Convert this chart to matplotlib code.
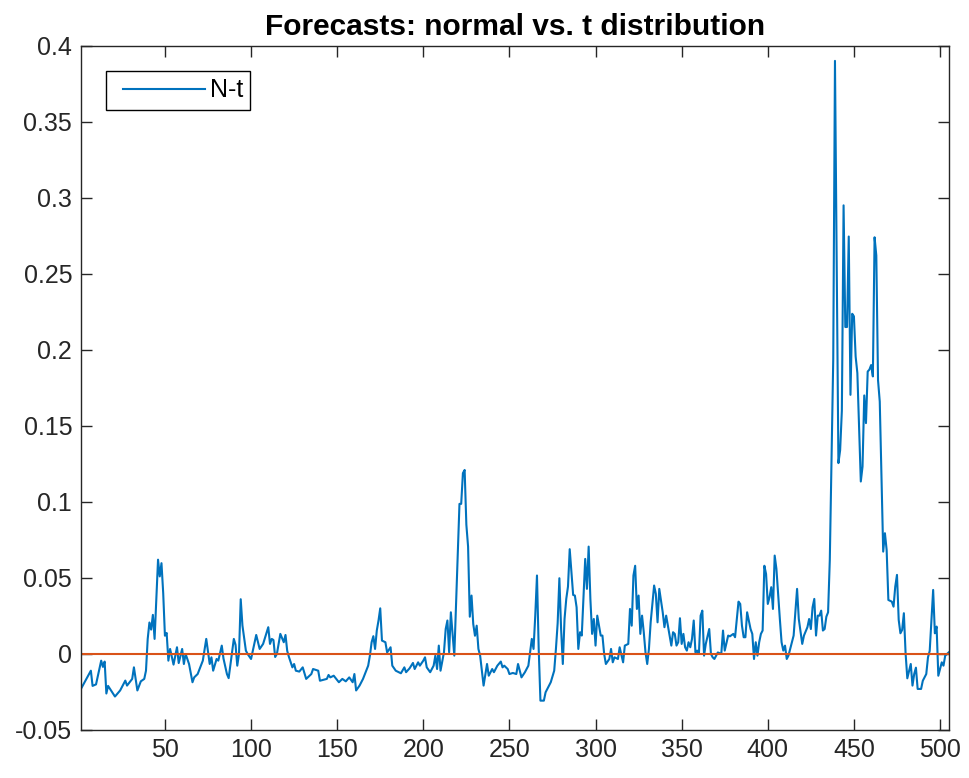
import matplotlib
matplotlib.use("Agg")
import matplotlib.pyplot as plt
from matplotlib.legend_handler import HandlerLine2D
import numpy as np

obs = [
    1, 7, 8, 10, 13, 14, 15, 16, 17, 21, 24, 27, 28, 31, 32, 34, 36, 38, 39, 40,
    41, 42, 43, 44, 46, 47, 48, 49, 50, 51, 52, 53, 55, 57, 58, 60, 61, 62, 64, 66,
    67, 69, 72, 74, 76, 77, 78, 80, 81, 83, 84, 86, 87, 90, 91, 92, 93, 94, 95, 97,
    98, 100, 101, 103, 105, 107, 110, 111, 112, 113, 114, 115, 117, 119, 120, 121, 122, 124, 125, 126,
    128, 130, 132, 135, 136, 139, 140, 144, 145, 146, 148, 151, 153, 155, 157, 159, 160, 161, 163, 165,
    168, 169, 170, 171, 172, 173, 174, 175, 176, 178, 179, 181, 182, 184, 187, 189, 190, 192, 194, 195,
    197, 198, 200, 201, 202, 204, 206, 207, 208, 209, 210, 212, 213, 214, 215, 216, 218, 219, 221, 222,
    223, 224, 225, 226, 227, 228, 229, 230, 231, 232, 233, 235, 237, 238, 240, 241, 243, 245, 246, 247,
    249, 250, 252, 254, 255, 257, 259, 261, 262, 263, 264, 265, 266, 267, 268, 270, 271, 273, 274, 276,
    277, 278, 279, 280, 281, 282, 283, 284, 285, 287, 288, 289, 290, 291, 292, 294, 295, 296, 297, 298,
    299, 300, 301, 303, 304, 305, 306, 308, 309, 310, 311, 313, 314, 316, 317, 319, 320, 321, 322, 323,
    324, 325, 326, 327, 328, 329, 330, 331, 332, 334, 335, 336, 337, 339, 340, 341, 342, 344, 345, 346,
    347, 348, 349, 350, 351, 352, 353, 354, 355, 356, 357, 358, 359, 360, 361, 362, 363, 364, 366, 367,
    368, 369, 371, 373, 374, 375, 377, 378, 380, 381, 382, 383, 384, 385, 386, 387, 388, 390, 391, 392,
    393, 394, 395, 396, 397, 398, 399, 400, 401, 402, 403, 404, 405, 407, 408, 409, 410, 411, 412, 413,
    415, 416, 417, 418, 420, 421, 423, 424, 425, 426, 427, 428, 429, 430, 431, 432, 433, 434, 435, 436,
    437, 438, 439, 441, 442, 443, 444, 445, 446, 447, 448, 449, 450, 451, 452, 454, 455, 456, 457, 458,
    459, 460, 461, 462, 463, 464, 465, 466, 467, 468, 469, 470, 472, 473, 474, 475, 476, 477, 478, 479,
    480, 481, 483, 484, 485, 486, 487, 489, 490, 492, 493, 494, 495, 496, 497, 498, 499, 501, 502, 503,
    505,
]
n_t = [
    -0.0235, -0.011, -0.021, -0.020, -0.0044, -0.0085, -0.005, -0.026, -0.021, -0.028,
    -0.024, -0.0175, -0.0208, -0.0164, -0.0088, -0.024, -0.018, -0.0164, -0.011, 0.0099,
    0.0207, 0.016, 0.0257, 0.0099, 0.062, 0.051, 0.0597, 0.040, 0.012, 0.0138,
    -0.0044, 0.0033, -0.007, 0.0044, -0.006, 0.0033, -0.0066, 0.0, -0.0066, -0.0186,
    -0.0154, -0.0132, -0.0044, 0.0099, -0.0066, -0.0022, -0.011, -0.0033, -0.0044, 0.0055,
    -0.003, -0.0132, -0.0159, 0.0099, 0.006, -0.0077, 0.0, 0.036, 0.0187, 0.0022,
    0.0, -0.0033, 0.002, 0.0125, 0.0033, 0.0066, 0.0176, 0.0066, 0.0099, 0.0092,
    -0.002, 0.0, 0.0132, 0.0077, 0.0125, 0.002, -0.002, -0.0088, -0.0066, -0.011,
    -0.0116, -0.0088, -0.0164, -0.0132, -0.0099, -0.011, -0.0176, -0.0164, -0.0138, -0.0154,
    -0.0143, -0.0186, -0.0164, -0.018, -0.0154, -0.0186, -0.0132, -0.024, -0.0208, -0.0164,
    -0.0077, -0.0011, 0.0077, 0.0117, 0.0033, 0.0154, 0.022, 0.030, 0.0088, 0.0077,
    0.001, 0.0044, -0.0077, -0.011, -0.0127, -0.0088, -0.012, -0.0095, -0.0059, -0.0099,
    -0.0055, -0.0077, -0.0044, -0.0022, -0.0088, -0.012, -0.0077, -0.0011, -0.0099, 0.0055,
    -0.011, 0.0011, 0.0164, 0.022, 0.0011, 0.0274, -0.0011, 0.0318, 0.0987, 0.0987,
    0.1189, 0.121, 0.085, 0.0706, 0.0245, 0.0384, 0.0197, 0.012, 0.0186, 0.0033,
    -0.0011, -0.0208, -0.0066, -0.0143, -0.0099, -0.012, -0.0077, -0.005, -0.0088, -0.0077,
    -0.0099, -0.0132, -0.0125, -0.0132, -0.0066, -0.0154, -0.012, -0.0077, 0.001, 0.0099,
    0.0033, 0.0252, 0.0516, 0.0033, -0.0307, -0.0307, -0.0252, -0.0208, -0.0186, -0.011,
    0.0033, 0.0202, 0.0498, 0.0164, -0.0066, 0.023, 0.0362, 0.0443, 0.0689, 0.0388,
    0.0384, 0.0307, 0.0033, 0.0143, 0.0121, 0.0625, 0.0428, 0.0706, 0.0362, 0.0132,
    0.023, 0.0055, 0.0252, 0.0121, 0.0121, 0.0, -0.0066, -0.0033, 0.0033, -0.0055,
    -0.0022, -0.0033, 0.0044, -0.0055, 0.0055, 0.0066, 0.0296, 0.0186, 0.0516, 0.058,
    0.0296, 0.0384, 0.0132, 0.0252, 0.0143, 0.001, -0.0066, 0.0033, 0.0208, 0.045,
    0.0395, 0.0208, 0.0428, 0.0274, 0.0176, 0.0252, 0.0186, 0.0055, 0.0143, 0.0132,
    0.0055, 0.0077, 0.0235, 0.0066, 0.0132, 0.0044, 0.0022, 0.0077, 0.0044, 0.0099,
    0.022, 0.001, 0.0022, 0.0, 0.0252, 0.0285, -0.0011, 0.0066, 0.0164, 0.0,
    -0.0022, -0.0033, 0.001, 0.0, 0.0154, 0.0022, 0.0121, 0.0116, 0.0132, 0.011,
    0.023, 0.0344, 0.0329, 0.0186, 0.011, 0.011, 0.0274, 0.0164, 0.0132, -0.0033,
    0.0077, -0.0011, 0.0077, 0.0132, 0.0154, 0.058, 0.0526, 0.0329, 0.0373, 0.0439,
    0.0296, 0.0647, 0.056, 0.023, 0.0077, 0.0022, 0.0055, -0.0033, -0.0011, 0.0033,
    0.0121, 0.0274, 0.0428, 0.023, 0.0066, 0.0121, 0.0176, 0.023, 0.0164, 0.0307,
    0.0362, 0.0121, 0.0252, 0.0252, 0.0285, 0.0154, 0.0164, 0.0245, 0.0274, 0.0618,
    0.1276, 0.194, 0.39, 0.1255, 0.134, 0.160, 0.295, 0.215, 0.215, 0.2745,
    0.1704, 0.2237, 0.222, 0.1956, 0.1847, 0.1134, 0.1232, 0.170, 0.1518, 0.1857,
    0.187, 0.19, 0.1825, 0.274, 0.262, 0.18, 0.166, 0.1167, 0.0673, 0.0794,
    0.0684, 0.0355, 0.0344, 0.0311, 0.0443, 0.052, 0.0224, 0.0136, 0.0158, 0.0268,
    0.0004, -0.016, -0.0066, -0.0208, -0.0132, -0.009, -0.023, -0.023, -0.0176, -0.0132,
    -0.0022, 0.002, 0.0224, 0.0421, 0.0136, 0.018, -0.0143, -0.0055, -0.0077, -0.0011,
    0.001,
]
zero_level = 0.0

x_ticks = [50, 100, 150, 200, 250, 300, 350, 400, 450, 500]
y_ticks = [-0.05, 0, 0.05, 0.1, 0.15, 0.2, 0.25, 0.3, 0.35, 0.4]
y_labels = ['-0.05', '0', '0.05', '0.1', '0.15', '0.2', '0.25', '0.3', '0.35', '0.4']

plt.rcParams['font.family'] = ['Liberation Sans', 'DejaVu Sans']
axis_col = '#262626'

fig = plt.figure(figsize=(9.69, 7.78), dpi=100)
ax = fig.add_axes([0.0831, 0.0617, 0.8959, 0.8796])

ax.plot(obs, n_t, color='#0072BD', lw=1.5, label='N-t')
ax.axhline(zero_level, color='#D95319', lw=1.5)

ax.set_xlim(1, 505)
ax.set_ylim(-0.05, 0.4)
ax.set_xticks(x_ticks)
ax.set_xticklabels([str(t) for t in x_ticks])
ax.set_yticks(y_ticks)
ax.set_yticklabels(y_labels)
ax.tick_params(direction='in', length=8, width=1, colors=axis_col, labelsize=18,
               top=True, right=True, pad=6)
for s in ax.spines.values():
    s.set_color(axis_col)
    s.set_linewidth(1)

ax.set_title('Forecasts: normal vs. t distribution', fontsize=21.5, fontweight='bold', pad=8)

# MATLAB-style legend: extra room left of the line sample
leg = ax.legend(loc='upper left', bbox_to_anchor=(0.0294, 0.963), borderaxespad=0,
                fontsize=18, handlelength=3.64, handletextpad=0.2, borderpad=0.3,
                fancybox=False, framealpha=1,
                handler_map={plt.Line2D: HandlerLine2D(xpad=0.36)})
leg.get_frame().set_edgecolor('#000000')
leg.get_frame().set_linewidth(1)

fig.savefig('out.png', dpi=100)
